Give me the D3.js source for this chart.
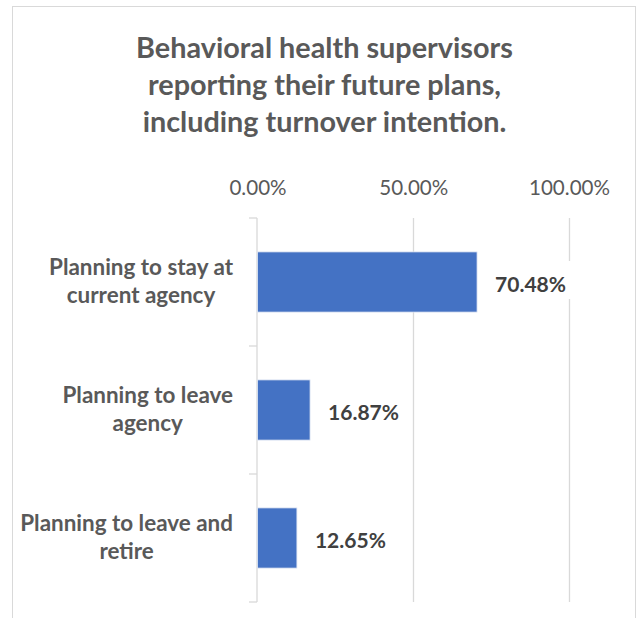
<!DOCTYPE html>
<html>
<head>
<meta charset="utf-8">
<script src="https://cdn.jsdelivr.net/npm/d3@7"></script>
<style>
  html, body { margin: 0; padding: 0; background: #fff; }
  svg { display: block; }
  text { font-family: Lato, "Open Sans", sans-serif; }
</style>
</head>
<body>
<svg id="chart" width="639" height="618"></svg>
<script>
// ---- data ----
const titleLines = ["Behavioral health supervisors", "reporting their future plans,", "including turnover intention."];
const categories = ["Planning to stay at current agency", "Planning to leave agency", "Planning to leave and retire"];
const categoryLines = [["Planning to stay at", "current agency"], ["Planning to leave", "agency"], ["Planning to leave and", "retire"]];
const values = [0.7048, 0.1687, 0.1265];
const valueLabels = ["70.48%", "16.87%", "12.65%"];
const xTicks = [0, 0.5, 1];
const xTickLabels = ["0.00%", "50.00%", "100.00%"];

const svg = d3.select("#chart");

// helper: pick a font size so that a reference string reaches a target width
function fitSize(str, weight, targetW, guess) {
  const t = svg.append("text").attr("font-size", guess).attr("font-weight", weight).text(str);
  const w = t.node().getComputedTextLength();
  t.remove();
  return guess * targetW / w;
}

// border
svg.append("rect").attr("x", 12.5).attr("y", 6.5).attr("width", 623).attr("height", 700)
  .attr("fill", "#fff").attr("stroke", "#d9d9d9").attr("stroke-width", 1);

// title
const titleSize = fitSize(titleLines[0], "bold", 377, 30);
const titleBase = [57.5, 95, 132];
svg.append("g").selectAll("text").data(titleLines).join("text")
  .attr("x", 324.5).attr("y", (d, i) => titleBase[i])
  .attr("text-anchor", "middle").attr("font-weight", "bold")
  .attr("font-size", titleSize).attr("fill", "#595959").text(d => d);

// scales
const x = d3.scaleLinear().domain([0, 1]).range([257.5, 569]);
const y = d3.scaleBand().domain(categories).range([218, 602]).padding(0);
const barH = y.bandwidth() * 0.47;

// gridlines
svg.append("g").selectAll("line").data(xTicks.slice(1)).join("line")
  .attr("x1", d => Math.round(x(d)) + 0.5).attr("x2", d => Math.round(x(d)) + 0.5)
  .attr("y1", 218).attr("y2", 602).attr("stroke", "#d9d9d9").attr("stroke-width", 1.3);

// top tick labels
const tickSize = fitSize(xTickLabels[2], "normal", 81, 22);
const xAxis = d3.axisTop(x).tickValues(xTicks).tickFormat((d, i) => xTickLabels[i]).tickSize(0).tickPadding(0);
const gx = svg.append("g").attr("transform", "translate(0,195)").call(xAxis);
gx.select(".domain").remove();
gx.selectAll("text").attr("font-size", tickSize).attr("fill", "#595959")
  .attr("font-family", "Lato, sans-serif").attr("dy", 0).attr("y", 0);

// category axis (line + ticks at band boundaries)
const yAxisG = svg.append("g");
yAxisG.append("line").attr("x1", 257).attr("x2", 257).attr("y1", 218).attr("y2", 602)
  .attr("stroke", "#d9d9d9").attr("stroke-width", 1.3);
const bounds = categories.map(c => y(c)).concat([y(categories[categories.length - 1]) + y.bandwidth()]);
yAxisG.selectAll("line.tk").data(bounds).join("line").attr("class", "tk")
  .attr("x1", 249).attr("x2", 257).attr("y1", d => d).attr("y2", d => d)
  .attr("stroke", "#d9d9d9").attr("stroke-width", 1.3);

// bars
svg.append("g").selectAll("rect").data(values).join("rect")
  .attr("x", x(0)).attr("y", (d, i) => y(categories[i]) + (y.bandwidth() - barH) / 2)
  .attr("width", d => x(d) - x(0)).attr("height", barH)
  .attr("fill", "#4472c4").attr("stroke", "#dfe6f3").attr("stroke-width", 0.8);

// category labels
const catSize = fitSize(categoryLines[0][0], "bold", 184, 23);
const catG = svg.append("g");
categoryLines.forEach((lines, i) => {
  const cy = y(categories[i]) + y.bandwidth() / 2;
  const widths = lines.map(l => {
    const t = svg.append("text").attr("font-size", catSize).attr("font-weight", "bold").text(l);
    const w = t.node().getComputedTextLength(); t.remove(); return w;
  });
  const maxW = d3.max(widths);
  const cx = 233 - maxW / 2;
  catG.selectAll(null).data(lines).join("text")
    .attr("x", cx).attr("y", (d, j) => cy - 7 + j * 28)
    .attr("text-anchor", "middle").attr("font-weight", "bold")
    .attr("font-size", catSize).attr("fill", "#595959").text(d => d);
});

// value labels with white background
const valSize = fitSize(valueLabels[0], "bold", 71, 23);
const vg = svg.append("g");
values.forEach((v, i) => {
  const cy = y(categories[i]) + y.bandwidth() / 2;
  const g = vg.append("g");
  const bg = g.append("rect").attr("fill", "#fff");
  const t = g.append("text").attr("x", x(v) + 18).attr("y", cy + 9.5)
    .attr("font-weight", "bold").attr("font-size", valSize).attr("fill", "#404040").text(valueLabels[i]);
  const bb = t.node().getBBox();
  bg.attr("x", bb.x - 6).attr("y", cy - 21).attr("width", bb.width + 14).attr("height", 38);
});
</script>
</body>
</html>
